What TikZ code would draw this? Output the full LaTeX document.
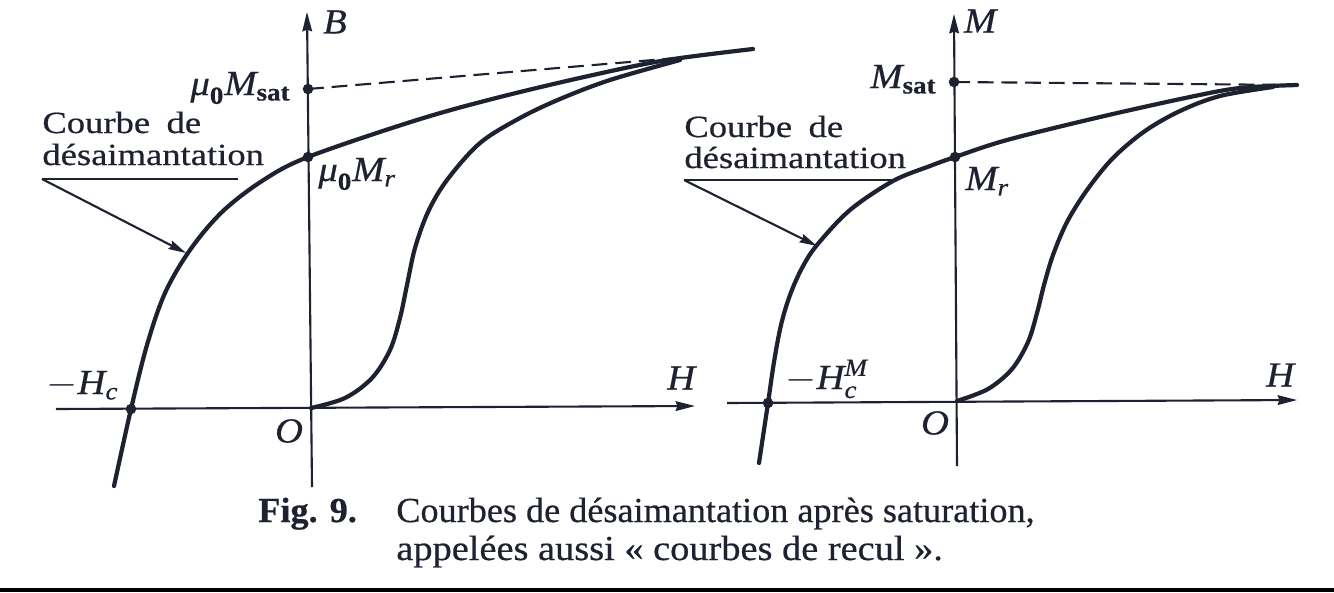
\documentclass[tikz,border=0pt]{standalone}
\usepackage{fontspec}
\usepackage{amsmath}
\setmainfont{Liberation Serif}[FakeBold=0.5]
\usetikzlibrary{arrows.meta}
\definecolor{ink}{RGB}{30,33,48}
\tikzset{
  axis/.style={ink, line width=1.2pt, -{Stealth[length=11pt,width=5.5pt,inset=1pt]}},
  curve/.style={ink, line width=2.4pt, line cap=round, line join=round},
  dot/.style={circle, fill=ink, inner sep=0pt, minimum size=6pt},
  asym/.style={ink, line width=1.2pt, dash pattern=on 9pt off 4.5pt},
  ann/.style={ink, line width=1.2pt},
  annarrow/.style={ann, -{Stealth[length=10pt,width=5pt,inset=1pt]}},
  lab/.style={inner sep=0pt, text=ink, font=\fontsize{20}{24}\selectfont, xscale=1.1},
  txt/.style={inner sep=0pt, text=ink, font=\fontsize{17.5}{21}\selectfont, xscale=1.19, anchor=base west},
  captxt/.style={inner sep=0pt, text=ink, font=\fontsize{20}{24}\selectfont, xscale=1.03, anchor=base west}
}
\begin{document}
\begin{tikzpicture}[x=0.02cm, y=-0.02cm]
\useasboundingbox (0,0) rectangle (1334,592);
\fill[white] (0,0) rectangle (1334,592);
\fill[black] (0,588) rectangle (1334,592);

% ---------------- left panel ----------------
\coordinate (LBtop) at (307,12);
\coordinate (LBbot) at (312,487);
\coordinate (LHl) at (56,409);
\coordinate (LHr) at (695,406);
\draw[axis] (LBbot) -- (LBtop);
\draw[axis] (LHl) -- (LHr);

\coordinate (LsatEnd) at (677,58);
\node[dot] (Lsat) at (308,89) {};
\draw[asym] (Lsat.center) -- (LsatEnd);

\draw[curve] plot[smooth, tension=0.55] coordinates {(114,486) (131,409) (147,345) (165,293) (190,250) (222,212) (262,181) (308,157) (417,120) (500,97) (593,75) (667,60) (753,49)};
\draw[curve] plot[smooth, tension=0.55] coordinates {(311,408) (345,398) (372,378) (390,350) (400,318) (407,285) (415,248) (428,212) (447,180) (480,143) (520,118) (560,99) (610,80) (680,60)};

\node[dot] (Lr) at (308,157) {};
\node[dot] (Lhc) at (131,409) {};

\node[lab] (LBlab) at (335,22) {\textit{B}};
\node[lab, anchor=base east] (Lsatlab) at (291,95) {$\textit{μ}_{\textbf{0}}\textit{M}_{\textbf{sat}}$};
\node[lab, anchor=base west] (Lrlab) at (318,181) {$\textit{μ}_{\textbf{0}}\textit{M}_{\textit{r}}$};
\node[lab, anchor=base west] (Lhclab) at (46,394) {$-\textit{H}_{\textit{c}}$};
\node[lab] (LOlab) at (289,431) {\textit{O}};
\node[lab] (LHlab) at (682,378) {\textit{H}};

\node[txt] (Lt1) at (42,133) {Courbe\hspace{0.45em}de};
\node[txt] (Lt2) at (42,165) {désaimantation};
\coordinate (Lu1) at (42,179);
\coordinate (Lu2) at (238,179);
\coordinate (Ltip) at (186,253);
\draw[ann] (Lu1) -- (Lu2);
\draw[annarrow] (Lu1) -- (Ltip);

% ---------------- right panel ----------------
\coordinate (RMtop) at (954,14);
\coordinate (RMbot) at (957,466);
\coordinate (RHl) at (727,403);
\coordinate (RHr) at (1297,400);
\draw[axis] (RMbot) -- (RMtop);
\draw[axis] (RHl) -- (RHr);

\coordinate (RsatEnd) at (1297,85);
\node[dot] (Rsat) at (954,82) {};
\draw[asym] (Rsat.center) -- (RsatEnd);

\draw[curve] plot[smooth, tension=0.55] coordinates {(759,463) (768,403) (774,362) (781,325) (790,295) (802,268) (817,245) (850,210) (893,181) (930,166) (955,157) (1007,140) (1100,117) (1190,97) (1240,88) (1297,85)};
\draw[curve] plot[smooth, tension=0.55] coordinates {(957,401) (988,389) (1012,369) (1028,342) (1037,313) (1044,285) (1053,255) (1067,222) (1087,190) (1113,158) (1145,131) (1180,111) (1220,96) (1273,87)};

\node[dot] (Rr) at (955,157) {};
\node[dot] (Rhc) at (768,403) {};

\node[lab] (RMlab) at (981,21) {\textit{M}};
\node[lab, anchor=base east] (Rsatlab) at (937,88) {$\textit{M}_{\textbf{sat}}$};
\node[lab, anchor=base west] (Rrlab) at (965,190) {$\textit{M}_{\textit{r}}$};
\node[lab, anchor=base west] (Rhclab) at (785,389) {$-\textit{H}_{\textit{c}}^{\textit{M}}$};
\node[lab] (ROlab) at (935,423) {\textit{O}};
\node[lab] (RHlab) at (1281,375) {\textit{H}};

\node[txt] (Rt1) at (684,137) {Courbe\hspace{0.45em}de};
\node[txt] (Rt2) at (684,168) {désaimantation};
\coordinate (Ru1) at (684,180);
\coordinate (Ru2) at (893,180);
\coordinate (Rtip) at (817,246);
\draw[ann] (Ru1) -- (Ru2);
\draw[annarrow] (Ru1) -- (Rtip);

% ---------------- caption ----------------
\node[captxt] (fig) at (258,522) {\textbf{Fig. 9.}};
\node[captxt] (cap1) at (396,522) {Courbes de désaimantation après saturation,};
\node[captxt, xscale=1.06] (cap2) at (396,560) {appelées aussi « courbes de recul ».};
\end{tikzpicture}
\end{document}
